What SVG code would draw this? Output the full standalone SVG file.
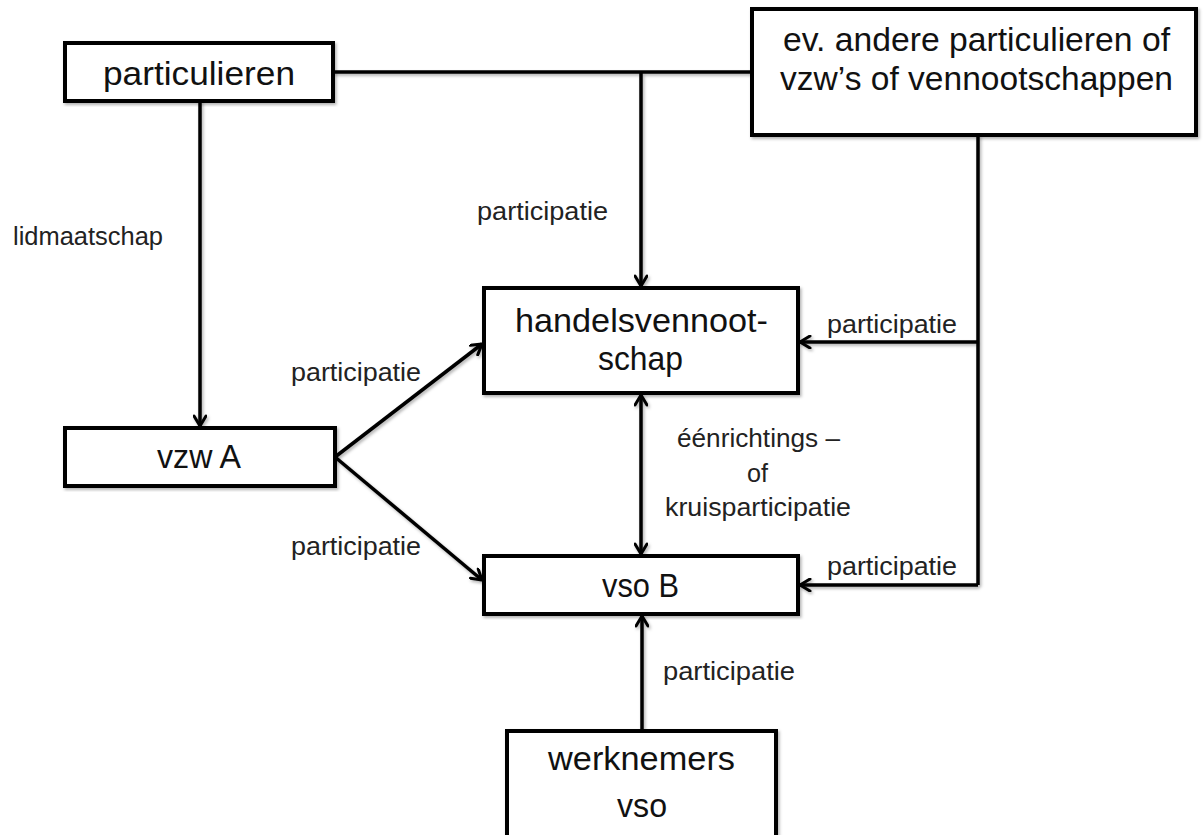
<svg xmlns="http://www.w3.org/2000/svg" width="1203" height="835" viewBox="0 0 1203 835">
<defs>
<filter id="sh" x="-10%" y="-10%" width="120%" height="120%">
<feDropShadow dx="1.5" dy="2" stdDeviation="1.5" flood-color="#000" flood-opacity="0.3"/>
</filter>
<marker id="ah" viewBox="0 0 14 14" refX="12" refY="7" markerWidth="14" markerHeight="14" markerUnits="userSpaceOnUse" orient="auto-start-reverse">
<path d="M2,1 L12,7 L2,13" fill="none" stroke="#000" stroke-width="3" stroke-linecap="round" stroke-linejoin="round"/>
</marker>
<style>
.box{fill:#fff;stroke:#000;stroke-width:4}
.nt{font-family:"Liberation Sans",Arial,sans-serif;font-size:33px;fill:#111}
.lb{font-family:"Liberation Sans",Arial,sans-serif;font-size:26px;fill:#222}
.ln{fill:none;stroke:#000;stroke-width:3.5}
.ar{marker-end:url(#ah)}
</style>
</defs>
<rect width="1203" height="835" fill="#fff"/>
<g id="connectors" filter="url(#sh)">
<path class="ln" d="M333,72 L752,72"/>
<path class="ln ar" d="M641,72 L641,286"/>
<path class="ln ar" d="M200,101 L200,426"/>
<path class="ln" d="M978,135 L978,585"/>
<path class="ln ar" d="M978,342 L800,342"/>
<path class="ln ar" d="M978,585 L800,585"/>
<path class="ln ar" d="M335,457 L482,344"/>
<path class="ln ar" d="M335,457 L482,580"/>
<path class="ln ar" style="marker-start:url(#ah)" d="M641,395 L641,554"/>
<path class="ln ar" d="M642,731 L642,616"/>
</g>
<g id="particulieren">
<rect class="box" x="65" y="43" width="268" height="58" filter="url(#sh)"/>
<text class="nt" x="103" y="85" textLength="192" lengthAdjust="spacingAndGlyphs">particulieren</text>
</g>
<g id="andere">
<rect class="box" x="752" y="9" width="444" height="126" filter="url(#sh)"/>
<text class="nt" x="783" y="51" textLength="387" lengthAdjust="spacingAndGlyphs">ev. andere particulieren of</text>
<text class="nt" x="780" y="90" textLength="393" lengthAdjust="spacingAndGlyphs">vzw’s of vennootschappen</text>
</g>
<g id="handelsvennootschap">
<rect class="box" x="484" y="288" width="314" height="105" filter="url(#sh)"/>
<text class="nt" x="515" y="332" textLength="253" lengthAdjust="spacingAndGlyphs">handelsvennoot-</text>
<text class="nt" x="598" y="370" textLength="85" lengthAdjust="spacingAndGlyphs">schap</text>
</g>
<g id="vzwA">
<rect class="box" x="65" y="428" width="270" height="58" filter="url(#sh)"/>
<text class="nt" x="157" y="468" textLength="84" lengthAdjust="spacingAndGlyphs">vzw A</text>
</g>
<g id="vsoB">
<rect class="box" x="484" y="556" width="314" height="58" filter="url(#sh)"/>
<text class="nt" x="602" y="597" textLength="77" lengthAdjust="spacingAndGlyphs">vso B</text>
</g>
<g id="werknemers">
<rect class="box" x="507" y="731" width="269" height="115" filter="url(#sh)"/>
<text class="nt" x="548" y="770" textLength="187" lengthAdjust="spacingAndGlyphs">werknemers</text>
<text class="nt" x="617" y="817" textLength="50" lengthAdjust="spacingAndGlyphs">vso</text>
</g>
<g id="labels">
<text class="lb" x="477" y="220" textLength="131" lengthAdjust="spacingAndGlyphs">participatie</text>
<text class="lb" x="13" y="245" textLength="150" lengthAdjust="spacingAndGlyphs">lidmaatschap</text>
<text class="lb" x="291" y="381" textLength="130" lengthAdjust="spacingAndGlyphs">participatie</text>
<text class="lb" x="291" y="555" textLength="130" lengthAdjust="spacingAndGlyphs">participatie</text>
<text class="lb" x="827" y="333" textLength="130" lengthAdjust="spacingAndGlyphs">participatie</text>
<text class="lb" x="827" y="575" textLength="130" lengthAdjust="spacingAndGlyphs">participatie</text>
<text class="lb" x="677" y="447" textLength="163" lengthAdjust="spacingAndGlyphs">éénrichtings –</text>
<text class="lb" x="747" y="482" textLength="21" lengthAdjust="spacingAndGlyphs">of</text>
<text class="lb" x="665" y="516" textLength="186" lengthAdjust="spacingAndGlyphs">kruisparticipatie</text>
<text class="lb" x="663" y="680" textLength="132" lengthAdjust="spacingAndGlyphs">participatie</text>
</g>
</svg>
